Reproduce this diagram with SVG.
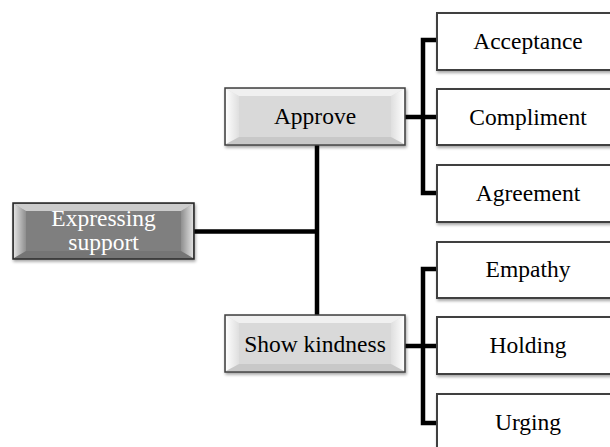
<svg xmlns="http://www.w3.org/2000/svg" width="610" height="447" viewBox="0 0 610 447">
<defs>
<filter id="sh" x="-10%" y="-10%" width="130%" height="140%">
<feDropShadow dx="1" dy="2" stdDeviation="1.5" flood-color="#000" flood-opacity="0.35"/>
</filter>
<linearGradient id="gl" x1="0" y1="0" x2="1" y2="0">
<stop offset="0" stop-color="#fff" stop-opacity="0.95"/>
<stop offset="1" stop-color="#fff" stop-opacity="0.15"/>
</linearGradient>
<linearGradient id="gr" x1="1" y1="0" x2="0" y2="0">
<stop offset="0" stop-color="#fff" stop-opacity="0.95"/>
<stop offset="1" stop-color="#fff" stop-opacity="0.15"/>
</linearGradient>
</defs>
<style>
.lvl0{fill:#7f7f7f;stroke:#262626;stroke-width:1.5}
.lvl1{fill:#d9d9d9;stroke:#404040;stroke-width:1.5}
.leaf{fill:#fff;stroke:#404040;stroke-width:2}
.bl{fill:url(#gl)}
.br{fill:url(#gr)}
.bt{fill:#fff;fill-opacity:0.6}
.bb{fill:#000;fill-opacity:0.08}
text{font-family:"Liberation Serif","Times New Roman",serif;font-size:23.5px;text-anchor:middle}
.dark{fill:#000}
.light{fill:#fff}
.con{fill:none;stroke:#000;stroke-width:4.5}
</style>
<g id="connectors">
<path class="con" d="M194,231.5 H317 M317,145 V315"/>
<path class="con" d="M405,117 H423 M439,40 H423 V193 H439 M423,117 H439"/>
<path class="con" d="M405,346 H423 M439,269 H423 V423 H439 M423,346 H439"/>
</g>
<g id="n-root">
<rect class="lvl0" x="13" y="203" width="181" height="56" filter="url(#sh)"/>
<polygon class="bt" points="14,204 193,204 181,211 26,211" fill-opacity="0.25"/>
<polygon class="bl" points="14,204 26,211 26,251 14,258" opacity="0.8"/>
<polygon class="br" points="193,204 181,211 181,251 193,258" opacity="0.8"/>
<polygon class="bb" points="14,258 26,251 181,251 193,258" fill-opacity="0.15"/>
<text class="light" x="103.5" y="226">Expressing</text>
<text class="light" x="103.5" y="250">support</text>
</g>
<g id="n-approve">
<rect class="lvl1" x="225" y="88" width="180" height="57" filter="url(#sh)"/>
<polygon class="bt" points="226,89 404,89 391,96 239,96"/>
<polygon class="bl" points="226,89 239,96 239,137 226,144"/>
<polygon class="br" points="404,89 391,96 391,137 404,144"/>
<polygon class="bb" points="226,144 239,137 391,137 404,144"/>
<text class="dark" x="315" y="124">Approve</text>
</g>
<g id="n-kind">
<rect class="lvl1" x="225" y="315" width="180" height="57" filter="url(#sh)"/>
<polygon class="bt" points="226,316 404,316 391,323 239,323"/>
<polygon class="bl" points="226,316 239,323 239,364 226,371"/>
<polygon class="br" points="404,316 391,323 391,364 404,371"/>
<polygon class="bb" points="226,371 239,364 391,364 404,371"/>
<text class="dark" x="315" y="352">Show kindness</text>
</g>
<g id="n-acceptance">
<rect class="leaf" x="437" y="13" width="182" height="57" filter="url(#sh)"/>
<text class="dark" x="528" y="48.5">Acceptance</text>
</g>
<g id="n-compliment">
<rect class="leaf" x="437" y="89" width="182" height="56" filter="url(#sh)"/>
<text class="dark" x="528" y="124.5">Compliment</text>
</g>
<g id="n-agreement">
<rect class="leaf" x="437" y="165" width="182" height="57" filter="url(#sh)"/>
<text class="dark" x="528" y="200.5">Agreement</text>
</g>
<g id="n-empathy">
<rect class="leaf" x="437" y="242" width="182" height="56" filter="url(#sh)"/>
<text class="dark" x="528" y="277">Empathy</text>
</g>
<g id="n-holding">
<rect class="leaf" x="437" y="317" width="182" height="57" filter="url(#sh)"/>
<text class="dark" x="528" y="353">Holding</text>
</g>
<g id="n-urging">
<rect class="leaf" x="437" y="394" width="182" height="57" filter="url(#sh)"/>
<text class="dark" x="528" y="429.5">Urging</text>
</g>
</svg>
